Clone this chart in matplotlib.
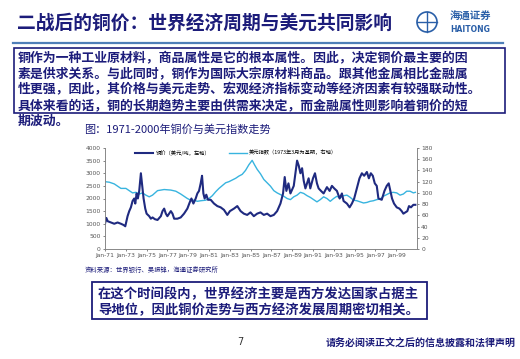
import matplotlib
matplotlib.use("Agg")
import matplotlib.pyplot as plt
from matplotlib.patches import Rectangle, Circle
from matplotlib.lines import Line2D

plt.rcParams['font.family'] = ['Noto Sans CJK SC', 'DejaVu Sans']

# ---------------- data ----------------
cu_t = [1971.0, 1971.13, 1971.26, 1971.58, 1971.89, 1972.21, 1972.53, 1972.79, 1972.95,
        1973.17, 1973.33, 1973.49, 1973.65, 1973.81, 1973.91, 1974.04, 1974.16, 1974.29,
        1974.45, 1974.58, 1974.71, 1974.87, 1975.0, 1975.25, 1975.41, 1975.57, 1975.8,
        1976.05, 1976.37, 1976.53, 1976.69, 1976.85, 1977.0, 1977.17, 1977.33, 1977.49,
        1977.65, 1977.96, 1978.28, 1978.6, 1978.92, 1979.15, 1979.31, 1979.5, 1979.72,
        1979.88, 1980.04, 1980.2, 1980.33, 1980.46, 1980.58, 1980.74, 1980.9, 1981.16,
        1981.48, 1981.8, 1982.12, 1982.44, 1982.76, 1983.01, 1983.4, 1983.72, 1984.04,
        1984.35, 1984.67, 1984.99, 1985.31, 1985.63, 1985.95, 1986.27, 1986.59, 1986.91,
        1987.23, 1987.55, 1987.87, 1988.12, 1988.28, 1988.44, 1988.64, 1988.83, 1989.15,
        1989.31, 1989.47, 1989.63, 1989.79, 1989.95, 1990.11, 1990.27, 1990.43, 1990.58,
        1990.74, 1991.0, 1991.19, 1991.38, 1991.54, 1991.77, 1992.02, 1992.34, 1992.6,
        1992.82, 1993.04, 1993.3, 1993.56, 1993.78, 1993.94, 1994.26, 1994.52, 1994.74,
        1994.96, 1995.22, 1995.47, 1995.7, 1995.92, 1996.18, 1996.37, 1996.56, 1996.75,
        1996.94, 1997.13, 1997.29, 1997.61, 1997.87, 1998.09, 1998.28, 1998.44, 1998.6,
        1998.79, 1999.05, 1999.31, 1999.53, 1999.69, 1999.88, 2000.07, 2000.23, 2000.42,
        2000.65, 2000.84]
cu_v = [1000, 1230, 1100, 1050, 1000, 1050, 1000, 950, 900,
        1300, 1500, 1650, 1900, 2000, 1800, 2200, 2000, 2300,
        3000, 2500, 2000, 1600, 1400, 1300, 1200, 1250, 1180,
        1150, 1300, 1500, 1600, 1400, 1300, 1400, 1500, 1400,
        1200, 1200, 1250, 1400, 1600, 1850, 2000, 1800, 2000,
        2200, 2300, 2600, 2900, 2200, 2000, 2150, 1950, 1950,
        1800, 1700, 1650, 1550, 1350, 1500, 1600, 1700, 1500,
        1400, 1350, 1450, 1300, 1400, 1450, 1350, 1400, 1300,
        1350, 1500, 1800, 2200, 2850, 2300, 2600, 2200, 2500,
        3000, 3500, 3300, 3000, 3200, 2700, 2400, 2600, 2800,
        2400, 2800, 3000, 2600, 2400, 2300, 2200, 2450, 2300,
        2500, 2400, 2300, 2000, 2200, 1900, 1800, 1650, 1800,
        2000, 2400, 2800, 3000, 2900, 3050, 2800, 3000, 2900,
        2600, 2500, 2000, 1950, 2300, 2500, 2600, 2300, 2000,
        1800, 1650, 1600, 1500, 1400, 1450, 1500, 1700, 1650,
        1750, 1750]

usd_t = [1971.0, 1971.42, 1971.89, 1972.21, 1972.53, 1973.01, 1973.33, 1973.65, 1973.97,
         1974.29, 1974.61, 1974.93, 1975.25, 1975.57, 1976.05, 1976.69, 1977.33, 1977.81,
         1978.28, 1978.6, 1978.92, 1979.24, 1979.56, 1979.88, 1980.2, 1980.68, 1981.0,
         1981.32, 1981.64, 1981.96, 1982.28, 1982.6, 1982.92, 1983.24, 1983.56, 1983.88,
         1984.19, 1984.51, 1984.83, 1985.15, 1985.38, 1985.63, 1985.95, 1986.27, 1986.59,
         1986.91, 1987.23, 1987.55, 1987.87, 1988.19, 1988.51, 1988.83, 1989.15, 1989.47,
         1989.79, 1990.11, 1990.43, 1990.74, 1991.06, 1991.38, 1991.7, 1992.02, 1992.34,
         1992.66, 1992.98, 1993.3, 1993.62, 1993.94, 1994.26, 1994.58, 1994.9, 1995.22,
         1995.54, 1995.86, 1996.18, 1996.49, 1996.81, 1997.13, 1997.45, 1997.77, 1998.09,
         1998.41, 1998.73, 1999.05, 1999.37, 1999.69, 2000.01, 2000.33, 2000.65, 2000.84]
usd_v = [120, 119, 116, 112, 108, 108, 104, 100, 101,
         98, 100, 96, 93, 96, 104, 106, 105, 103,
         98, 94, 90, 87, 87, 85, 86, 87, 90,
         95, 102, 108, 113, 118, 120, 123, 126, 130,
         133, 140, 150, 158, 150, 142, 134, 124, 118,
         112, 104, 100, 97, 94, 90, 88, 93, 96,
         101, 99, 95, 92, 88, 84, 88, 93, 90,
         85, 90, 94, 91, 95, 96, 92, 87, 86,
         84, 82, 83, 85, 86, 88, 89, 94, 97,
         100, 101, 100, 96, 98, 103, 103, 100, 101]

tick_years = list(range(1971, 2000, 2))
tick_labels = ["Jan-%02d" % (y % 100) for y in tick_years]
left_ticks = [0, 500, 1000, 1500, 2000, 2500, 3000, 3500, 4000]
right_ticks = [0, 20, 40, 60, 80, 100, 120, 140, 160, 180]

title = "二战后的铜价：世界经济周期与美元共同影响"
body_lines = [
    "铜作为一种工业原材料，商品属性是它的根本属性。因此，决定铜价最主要的因",
    "素是供求关系。与此同时，铜作为国际大宗原材料商品。跟其他金属相比金融属",
    "性更强，因此，其价格与美元走势、宏观经济指标变动等经济因素有较强联动性。",
    "具体来看的话，铜的长期趋势主要由供需来决定，而金融属性则影响着铜价的短",
    "期波动。",
]
caption = "图：1971-2000年铜价与美元指数走势"
source = "资料来源：世界银行、吴振锋，海通证券研究所"
bottom_lines = [
    "在这个时间段内，世界经济主要是西方发达国家占据主",
    "导地位，因此铜价走势与西方经济发展周期密切相关。",
]
legend_cu = "铜价（美元/吨，左轴）"
legend_usd = "美元指数（1973年3月为基期，右轴）"
footer = "请务必阅读正文之后的信息披露和法律声明"

# ---------------- figure ----------------
W, H = 520, 359
fig = plt.figure(figsize=(W / 100, H / 100), dpi=100)
fig.patch.set_facecolor("white")

navy = "#1c1c7a"
cu_color = "#1f2a80"
usd_color = "#38b4df"

# overlay in pixel coordinates
ov = fig.add_axes([0, 0, 1, 1])
ov.set_xlim(0, W)
ov.set_ylim(H, 0)
ov.axis("off")

ov.text(17, 23, title, fontsize=13.5, fontweight="bold", color=navy,
        va="center", ha="left")
ov.add_line(Line2D([13, 503], [43, 43], color="#4f7fb8", lw=1.6))

# logo
ov.add_patch(Circle((427, 22), 10, fill=False, ec="#2a5fa8", lw=1.2))
ov.add_line(Line2D([417, 437], [22, 22], color="#2a5fa8", lw=1.0))
ov.add_line(Line2D([427, 427], [12, 32], color="#2a5fa8", lw=1.0))
ov.text(470, 17, "海通证券", fontsize=7.5, fontweight="bold", color="#2a5fa8",
        ha="center", va="center", style="italic")
ov.text(470, 29, "HAITONG", fontsize=5.5, fontweight="bold", color="#2a5fa8",
        ha="center", va="center", family="DejaVu Sans")

# text box
ov.add_patch(Rectangle((14, 48), 491, 65, fill=False, ec=navy, lw=1.2))
ys = [58, 74, 89.5, 105, 121]
for y, line in zip(ys, body_lines):
    ov.text(18, y, line, fontsize=9.3, fontweight="bold", color=navy,
            va="center", ha="left")

ov.text(84, 129, caption, fontsize=8, color=navy, va="center", ha="left")

ov.text(85, 270, source, fontsize=4.6, color=navy, va="center", ha="left")

ov.add_patch(Rectangle((92, 282), 335, 37, fill=False, ec=navy, lw=1.3))
for y, line in zip([294, 310], bottom_lines):
    ov.text(98, y, line, fontsize=9.6, fontweight="bold", color=navy,
            va="center", ha="left")

ov.text(240, 342, "7", fontsize=7, color="#333333", va="center", ha="center",
        family="DejaVu Sans")
ov.text(516, 344, footer, fontsize=7.2, fontweight="bold", color=navy,
        va="center", ha="right", style="italic")

# ---------------- chart ----------------
left_px, right_px, top_px, bot_px = 105, 417, 148, 249
ax = fig.add_axes([left_px / W, 1 - bot_px / H, (right_px - left_px) / W,
                   (bot_px - top_px) / H])
ax.plot(cu_t, cu_v, color=cu_color, lw=1.5, label=legend_cu)
ax.set_xlim(1971, 2001)
ax.set_ylim(0, 4000)
ax.set_yticks(left_ticks)
ax.set_xticks(tick_years)
ax.set_xticklabels(tick_labels)

ax2 = ax.twinx()
ax2.plot(usd_t, usd_v, color=usd_color, lw=1.0, label=legend_usd)
ax2.set_ylim(0, 180)
ax2.set_yticks(right_ticks)

for a in (ax, ax2):
    a.set_facecolor("none")
    a.spines["top"].set_visible(False)
    for s in ("left", "right", "bottom"):
        a.spines[s].set_color("#888888")
        a.spines[s].set_linewidth(0.6)
    a.tick_params(labelsize=4.3, colors="#555555", length=1.5, width=0.5,
                  pad=1.5)
    for lab in a.get_xticklabels() + a.get_yticklabels():
        lab.set_family("DejaVu Sans")
ax.set_zorder(ax2.get_zorder() + 1)
ax.patch.set_visible(False)

h1, l1 = ax.get_legend_handles_labels()
h2, l2 = ax2.get_legend_handles_labels()
leg = ax.legend(h1 + h2, l1 + l2, loc="upper center", ncol=2, frameon=False,
                fontsize=3.8, bbox_to_anchor=(0.42, 1.03), handlelength=3.5,
                columnspacing=3.5, handletextpad=0.4)

fig.savefig("out.png", dpi=100, facecolor="white")
